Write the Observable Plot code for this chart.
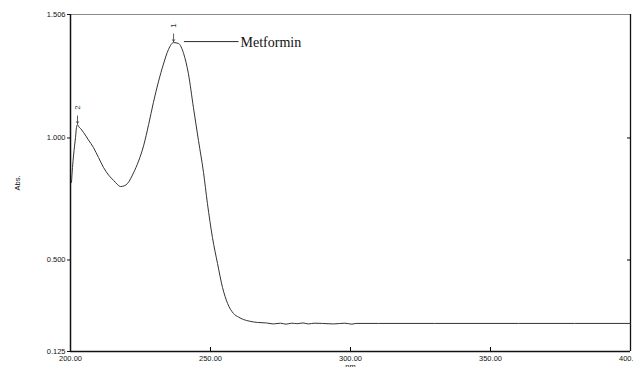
<!DOCTYPE html>
<html>
<head>
<meta charset="utf-8">
<script src="https://cdn.jsdelivr.net/npm/d3@7"></script>
<script src="https://cdn.jsdelivr.net/npm/@observablehq/plot@0.6"></script>
<style>
  html, body { margin: 0; padding: 0; background: #fff; }
  #chart svg { display: block; }
</style>
</head>
<body>
<div id="chart"></div>
<script>
// Wavelength (nm) and absorbance
const wavelength = [200.36, 200.71, 201.1, 201.79, 202.14, 202.5, 203.0, 203.57, 204.64, 206.4, 208.2, 210.0, 211.8, 213.6, 215.4, 216.7, 217.9, 219.2, 220.4, 222.5, 224.3, 226.1, 227.9, 229.6, 231.4, 233.2, 235.0, 236.8, 238.6, 240.4, 242.1, 243.9, 245.7, 247.5, 248.9, 250.7, 252.5, 254.3, 256.1, 258.2, 260.0, 261.8, 264.0, 266.8, 270.0, 272.5, 275.0, 277.0, 279.0, 281.0, 283.0, 285.0, 287.0, 290.0, 294.0, 298.0, 300.5, 302.0, 310.0, 330.0, 360.0, 400.0];
const absorbance = [0.818, 0.879, 0.93, 1.002, 1.043, 1.055, 1.045, 1.039, 1.023, 0.992, 0.961, 0.92, 0.879, 0.848, 0.826, 0.810, 0.801, 0.804, 0.814, 0.857, 0.905, 0.968, 1.055, 1.145, 1.230, 1.303, 1.363, 1.391, 1.387, 1.346, 1.264, 1.125, 0.990, 0.859, 0.732, 0.592, 0.486, 0.387, 0.322, 0.281, 0.266, 0.256, 0.249, 0.244, 0.242, 0.238, 0.241, 0.237, 0.241, 0.239, 0.242, 0.238, 0.241, 0.240, 0.238, 0.241, 0.237, 0.240, 0.240, 0.240, 0.240, 0.240];

// Axis ticks
const xTicks = [200, 250, 300, 350, 400];
const yTicks = [0.125, 0.5, 1.0, 1.506];
const yRightTicks = [0.5, 1.0];

// Peak markers
const peakLabels = ["1", "2"];
const peakNm = [236.8, 202.5];
const peakAbs = [1.391, 1.055];

// Compound label
const compoundName = ["Metformin"];
const compoundLineFrom = [240.5];
const compoundLineTo = [260.0];
const compoundAbs = [1.395];

const spectrum = wavelength.map((w, i) => ({w, a: absorbance[i]}));
const peaks = peakLabels.map((l, i) => ({label: l, w: peakNm[i], a: peakAbs[i]}));
const compound = compoundName.map((n, i) => ({name: n, x1: compoundLineFrom[i], x2: compoundLineTo[i], a: compoundAbs[i]}));

const chart = Plot.plot({
  width: 633,
  height: 367,
  marginLeft: 70,
  marginRight: 3,
  marginTop: 14,
  marginBottom: 16,
  style: {fontFamily: "Liberation Sans, Arial, sans-serif", background: "#fff"},
  x: {domain: [200, 400]},
  y: {domain: [0.125, 1.506]},
  marks: [
    // frame
    Plot.ruleY([1.506], {stroke: "#888", strokeWidth: 1}),
    Plot.ruleX([400], {stroke: "#111", strokeWidth: 1.3}),
    Plot.ruleX([200], {stroke: "#111", strokeWidth: 1.5}),
    Plot.ruleY([0.125], {stroke: "#111", strokeWidth: 1.5}),
    // axes
    Plot.axisY({ticks: yTicks, tickFormat: d3.format(".3f"), tickSize: 3, tickPadding: 2, fontSize: 7.5, color: "#111",
      label: "Abs.", labelAnchor: "center", labelArrow: "none", labelOffset: 56}),
    Plot.axisY({anchor: "right", ticks: yRightTicks, tickSize: -4, tickFormat: () => "", label: null}),
    Plot.axisX({ticks: xTicks, tickFormat: d3.format(".2f"), tickSize: 0, tickPadding: 4, fontSize: 7.5, color: "#111",
      label: "nm", labelAnchor: "center", labelArrow: "none", labelOffset: 17}),
    Plot.axisX({ticks: [250, 300, 350], tickSize: -4, tickFormat: () => "", label: null}),
    // spectrum
    Plot.line(spectrum, {x: "w", y: "a", stroke: "#333", strokeWidth: 1, curve: "monotone-x"}),
    // peak markers
    Plot.arrow(peaks, {x1: "w", x2: "w", y1: d => d.a + 0.035, y2: d => d.a + 0.004, stroke: "#333", strokeWidth: 0.8, headLength: 4}),
    Plot.text(peaks, {x: "w", y: "a", text: "label", rotate: -90, dy: -17, fontSize: 8, fill: "#333"}),
    // compound label
    Plot.link(compound, {x1: "x1", x2: "x2", y1: "a", y2: "a", stroke: "#111", strokeWidth: 0.9}),
    Plot.text(compound, {x: "x2", y: "a", text: "name", textAnchor: "start", dx: 2, dy: 1, fontSize: 14, fill: "#111", fontFamily: "Liberation Serif, Times New Roman, serif"})
  ]
});
document.getElementById("chart").appendChild(chart);
</script>
</body>
</html>
